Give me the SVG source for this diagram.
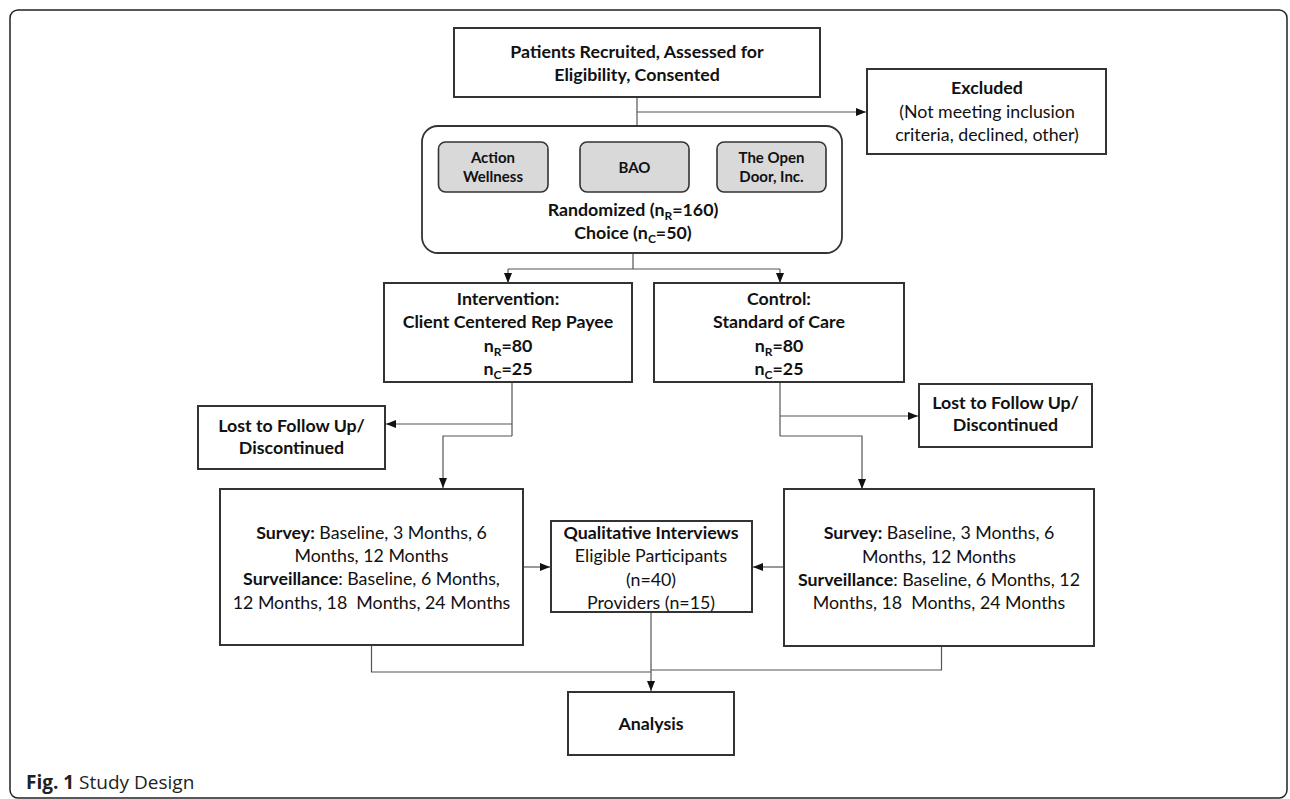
<svg xmlns="http://www.w3.org/2000/svg" width="1290" height="799" viewBox="0 0 1290 799">
<defs>
<style>
text{font-family:Lato,"Liberation Sans",sans-serif;font-size:17.8px;fill:#111;text-anchor:middle}
.b{font-weight:bold}
.sb{font-weight:bold;font-size:15px}
.box{fill:#fff;stroke:#333;stroke-width:2}
.sub{fill:#d9d9d9;stroke:#333;stroke-width:1.6}
.con{fill:none;stroke:#555;stroke-width:1.2}
.cap{font-family:"Open Sans","Liberation Sans",sans-serif;font-size:19px;text-anchor:start;fill:#222}
</style>
<marker id="ar" markerUnits="userSpaceOnUse" markerWidth="10" markerHeight="8" refX="10" refY="4" orient="auto">
<path d="M0,0 L10,4 L0,8 z" fill="#111"/>
</marker>
</defs>
<rect x="0" y="0" width="1290" height="799" fill="#fff"/>
<rect x="10" y="10" width="1277" height="788" rx="8" fill="none" stroke="#222" stroke-width="1.5"/>

<g id="connectors">
<path class="con" d="M637,97 V136" marker-end="url(#ar)"/>
<path class="con" d="M637,112 H866" marker-end="url(#ar)"/>
<path class="con" d="M633,253 V269 M508,269 H780"/>
<path class="con" d="M508,269 V283" marker-end="url(#ar)"/>
<path class="con" d="M780,269 V283" marker-end="url(#ar)"/>
<path class="con" d="M512,382 V436"/>
<path class="con" d="M512,424 H386" marker-end="url(#ar)"/>
<path class="con" d="M512,436 H443 V488" marker-end="url(#ar)"/>
<path class="con" d="M780,382 V436"/>
<path class="con" d="M780,416 H918" marker-end="url(#ar)"/>
<path class="con" d="M780,436 H862 V489" marker-end="url(#ar)"/>
<path class="con" d="M523,567 H550" marker-end="url(#ar)"/>
<path class="con" d="M784,567 H753" marker-end="url(#ar)"/>
<path class="con" d="M371.5,645 V672 H651"/>
<path class="con" d="M941.5,646 V670 H651"/>
<path class="con" d="M651,612 V691" marker-end="url(#ar)"/>
</g>

<g id="recruited">
<rect class="box" x="454" y="28" width="366" height="69"/>
<text class="b" x="637" y="58">Patients Recruited, Assessed for</text>
<text class="b" x="637" y="81">Eligibility, Consented</text>
</g>

<g id="excluded">
<rect class="box" x="867" y="69" width="239" height="85"/>
<text class="b" x="987" y="94">Excluded</text>
<text x="987" y="118">(Not meeting inclusion</text>
<text x="987" y="141">criteria, declined, other)</text>
</g>

<g id="randomization">
<rect x="422" y="126" width="420" height="127" rx="16" fill="#fff" stroke="#333" stroke-width="1.8"/>
<text class="b" x="633" y="216">Randomized (n<tspan font-size="12" dy="4">R</tspan><tspan dy="-4">=160)</tspan></text>
<text class="b" x="633" y="239">Choice (n<tspan font-size="12" dy="4">C</tspan><tspan dy="-4">=50)</tspan></text>
</g>

<g id="action-wellness">
<rect class="sub" x="438.5" y="142" width="109.5" height="50" rx="7"/>
<text class="sb" x="493" y="163">Action</text>
<text class="sb" x="493" y="182">Wellness</text>
</g>

<g id="bao">
<rect class="sub" x="580" y="142" width="109" height="50" rx="7"/>
<text class="sb" x="634.5" y="173">BAO</text>
</g>

<g id="open-door">
<rect class="sub" x="717" y="142" width="109" height="50" rx="7"/>
<text class="sb" x="771.5" y="163">The Open</text>
<text class="sb" x="771.5" y="182">Door, Inc.</text>
</g>

<g id="intervention">
<rect class="box" x="384" y="283" width="248" height="99"/>
<text class="b" x="508" y="305">Intervention:</text>
<text class="b" x="508" y="328">Client Centered Rep Payee</text>
<text class="b" x="508" y="352">n<tspan font-size="12" dy="4">R</tspan><tspan dy="-4">=80</tspan></text>
<text class="b" x="508" y="375">n<tspan font-size="12" dy="4">C</tspan><tspan dy="-4">=25</tspan></text>
</g>

<g id="control">
<rect class="box" x="654" y="283" width="250" height="99"/>
<text class="b" x="779" y="305">Control:</text>
<text class="b" x="779" y="328">Standard of Care</text>
<text class="b" x="779" y="352">n<tspan font-size="12" dy="4">R</tspan><tspan dy="-4">=80</tspan></text>
<text class="b" x="779" y="375">n<tspan font-size="12" dy="4">C</tspan><tspan dy="-4">=25</tspan></text>
</g>

<g id="lost-left">
<rect class="box" x="198" y="406" width="187" height="63"/>
<text class="b" x="291.5" y="432">Lost to Follow Up/</text>
<text class="b" x="291.5" y="454">Discontinued</text>
</g>

<g id="lost-right">
<rect class="box" x="919" y="384" width="173" height="63"/>
<text class="b" x="1005.5" y="409">Lost to Follow Up/</text>
<text class="b" x="1005.5" y="431">Discontinued</text>
</g>

<g id="survey-left">
<rect class="box" x="220" y="489" width="303" height="156"/>
<text x="371.5" y="539"><tspan font-weight="bold">Survey:</tspan> Baseline, 3 Months, 6</text>
<text x="371.5" y="562">Months, 12 Months</text>
<text x="371.5" y="585"><tspan font-weight="bold">Surveillance</tspan>: Baseline, 6 Months,</text>
<text x="371.5" y="609" xml:space="preserve">12 Months, 18  Months, 24 Months</text>
</g>

<g id="qualitative">
<rect class="box" x="551" y="521" width="201" height="91"/>
<text class="b" x="651" y="539">Qualitative Interviews</text>
<text x="651" y="562">Eligible Participants</text>
<text x="651" y="586">(n=40)</text>
<text x="651" y="609">Providers (n=15)</text>
</g>

<g id="survey-right">
<rect class="box" x="784" y="489" width="310" height="157"/>
<text x="939" y="539"><tspan font-weight="bold">Survey:</tspan> Baseline, 3 Months, 6</text>
<text x="939" y="563">Months, 12 Months</text>
<text x="939" y="586"><tspan font-weight="bold">Surveillance</tspan>: Baseline, 6 Months, 12</text>
<text x="939" y="609" xml:space="preserve">Months, 18  Months, 24 Months</text>
</g>

<g id="analysis">
<rect class="box" x="568" y="692" width="166" height="63"/>
<text class="b" x="651" y="730">Analysis</text>
</g>

<text class="cap" x="26" y="789"><tspan font-weight="bold">Fig. 1</tspan> Study Design</text>
</svg>
